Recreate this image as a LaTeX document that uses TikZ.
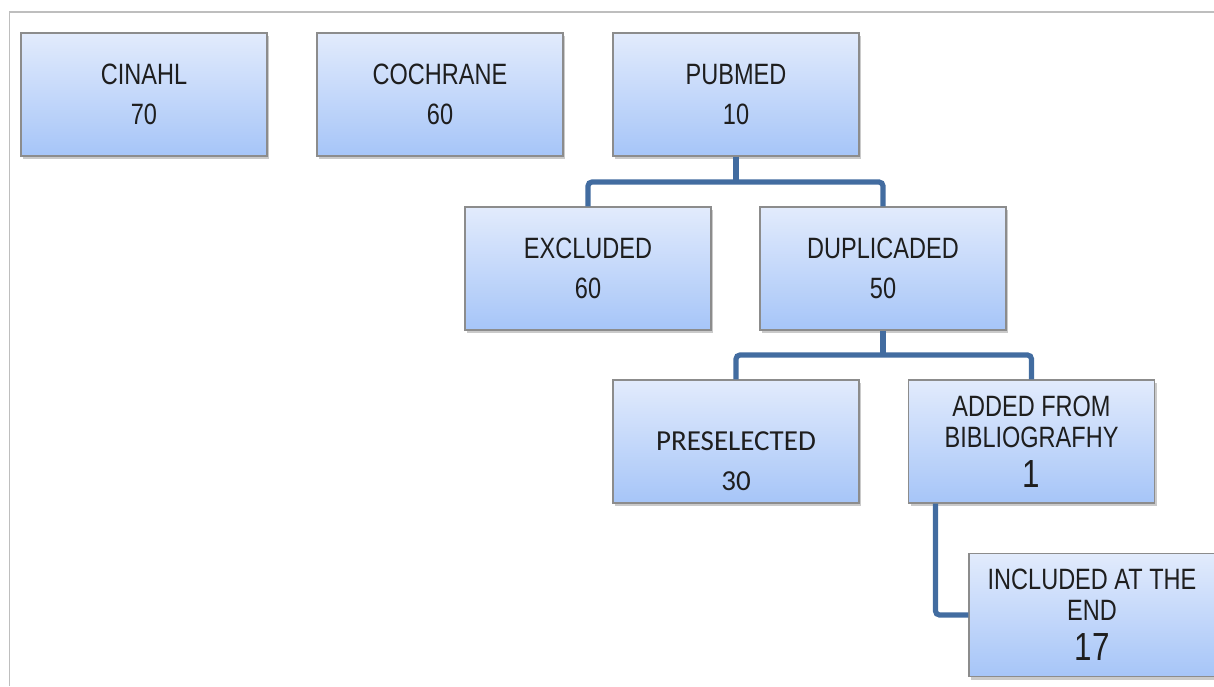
\documentclass[tikz,border=0pt]{standalone}
\usepackage{fontspec}
\setmainfont{Liberation Sans}[FakeStretch=0.8]
\newfontfamily\calfont{Carlito}
\usetikzlibrary{shadows}
\definecolor{boxtop}{RGB}{226,235,252}
\definecolor{boxbot}{RGB}{166,197,248}
\definecolor{boxedge}{RGB}{140,140,140}
\definecolor{connc}{RGB}{66,108,160}
\definecolor{framec}{RGB}{190,190,190}
\definecolor{textc}{RGB}{30,30,30}
\begin{document}
\begin{tikzpicture}[x=0.5pt,y=-0.5pt,
  box/.style={draw=boxedge, line width=0.6pt, top color=boxtop, bottom color=boxbot,
    minimum width=123pt, minimum height=61.5pt, inner sep=0pt, align=center,
    text=textc, font=\fontsize{14.7}{20}\selectfont,
    drop shadow={shadow xshift=1pt, shadow yshift=-1.5pt, opacity=0.35, fill=black!60}},
  link/.style={draw=connc, line width=2.6pt, rounded corners=2pt}]
\useasboundingbox (0,0) rectangle (1214,686);
\draw[framec, line width=0.7pt] (9.5,686) -- (9.5,12) -- (1214,12);

\node[box] (cin) at (144,94.5) {CINAHL\\70};
\node[box] (coc) at (440,94.5) {COCHRANE\\60};
\node[box] (pub) at (736,94.5) {PUBMED\\10};
\node[box] (exc) at (588,268.5) {EXCLUDED\\60};
\node[box] (dup) at (883,268.5) {DUPLICADED\\50};
\node[box, font=\calfont\fontsize{14.5}{20}\selectfont] (pre) at (736,441.5) {\vphantom{X}\\PRESELECTED\\30};
\node[box, font=\fontsize{14.7}{15.5}\selectfont] (add) at (1031.5,441.5) {ADDED FROM\\BIBLIOGRAFHY\\[4.5pt]{\fontsize{19.6}{20}\selectfont 1}};
\node[box, font=\fontsize{14.7}{15.5}\selectfont] (inc) at (1092,615) {INCLUDED AT THE\\END\\[4.5pt]{\fontsize{19.6}{20}\selectfont 17}};

\coordinate (j1) at (736,182);
\draw[link] (exc.north) |- (j1) -| (dup.north);
\draw[link] (pub.south) -- (j1);
\coordinate (j2) at (883,355);
\draw[link] (pre.north) |- (j2) -| (add.north);
\draw[link] (dup.south) -- (j2);
\draw[link] ([xshift=-48pt]add.south) |- (inc.west);
\end{tikzpicture}
\end{document}
